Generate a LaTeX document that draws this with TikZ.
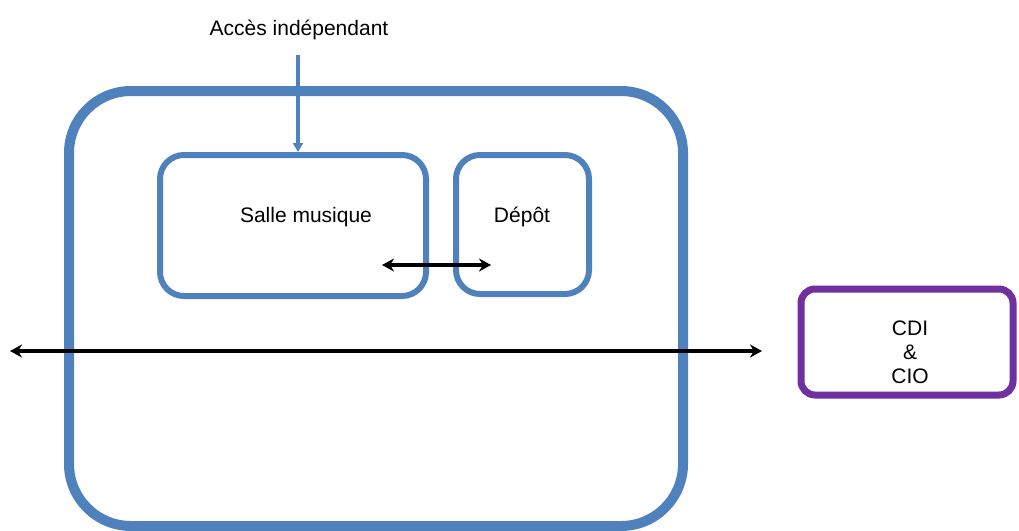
\documentclass[tikz,border=0pt]{standalone}
\usepackage{fontspec}
\setmainfont{Liberation Sans}
\usetikzlibrary{arrows.meta}
\definecolor{wallblue}{HTML}{4F81BD}
\definecolor{cdipurple}{HTML}{7030A0}
\tikzset{
  room/.style={draw=wallblue, rectangle, line width=6pt, rounded corners=24pt, inner sep=0pt},
  label/.style={font=\fontsize{21}{25}\selectfont, inner sep=0pt, align=center},
  passage/.style={draw=black, line width=3.6pt, {Stealth[length=12pt,width=13pt]}-{Stealth[length=12pt,width=13pt]}}
}
\begin{document}
\begin{tikzpicture}[x=1pt,y=-1pt]
  \useasboundingbox (0,0) rectangle (1019,530);
  % building outline
  \node[room, line width=10pt, rounded corners=62pt, minimum width=614pt, minimum height=435pt] (bat) at (376,308.5) {};
  % rooms
  \node[room, minimum width=266pt, minimum height=141pt] (salle) at (293,225.5) {};
  \node[room, minimum width=133pt, minimum height=139pt] (depot) at (522.5,224.5) {};
  \node[room, draw=cdipurple, line width=7pt, rounded corners=14pt, minimum width=212pt, minimum height=106pt] (cdi) at (907,342) {};
  % texts
  \node[label] (acces) at (299,30) {Accès indépendant};
  \node[label] (salletxt) at (306,217) {Salle musique};
  \node[label] (depottxt) at (522,217) {Dépôt};
  \node[label] (cditxt) at (910,352) {CDI\\[-1pt]\&\\[-1pt]CIO};
  % connectors
  \coordinate (accstart) at (298,55);
  \draw[wallblue, line width=3.2pt, -{Triangle[length=9pt,width=10pt]}] (accstart) -- (accstart |- salle.north);
  \coordinate (sd1) at (382,265);
  \coordinate (sd2) at (491,265);
  \draw[passage] (sd1) -- (sd2);
  \coordinate (couloirW) at (10,351);
  \coordinate (couloirE) at (762,351);
  \draw[passage] (couloirW) -- (couloirE);
\end{tikzpicture}
\end{document}
